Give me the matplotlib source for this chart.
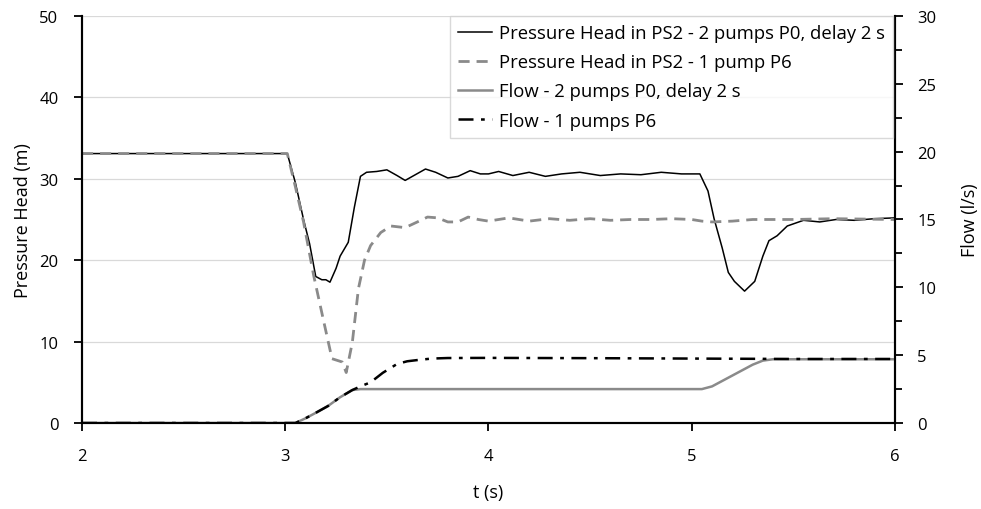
import matplotlib
matplotlib.use("Agg")
import matplotlib.pyplot as plt
from matplotlib.ticker import MultipleLocator

plt.rcParams["font.family"] = ["Open Sans", "DejaVu Sans"]

# ── data ──────────────────────────────────────────────
t_head2 = [2.0, 3.01, 3.05, 3.09, 3.12, 3.15, 3.18, 3.20, 3.22, 3.25, 3.27, 3.31, 3.34,
           3.37, 3.40, 3.45, 3.50, 3.55, 3.59, 3.64, 3.69, 3.74, 3.80, 3.85, 3.91, 3.96,
           4.00, 4.05, 4.12, 4.20, 4.28, 4.36, 4.45, 4.55, 4.65, 4.75, 4.85, 4.95, 5.04,
           5.08, 5.11, 5.15, 5.18, 5.21, 5.26, 5.31, 5.35, 5.38, 5.42, 5.47, 5.55, 5.63,
           5.71, 5.80, 5.90, 6.00]
head2 = [33.1, 33.1, 29.5, 25.0, 22.0, 18.0, 17.6, 17.6, 17.3, 19.0, 20.5, 22.2, 26.5,
         30.3, 30.8, 30.9, 31.1, 30.4, 29.8, 30.5, 31.2, 30.8, 30.1, 30.3, 31.0, 30.6,
         30.6, 30.9, 30.4, 30.8, 30.3, 30.6, 30.8, 30.4, 30.6, 30.5, 30.8, 30.6, 30.6,
         28.5, 25.1, 21.5, 18.5, 17.4, 16.2, 17.4, 20.5, 22.4, 23.0, 24.2, 24.9, 24.7,
         25.0, 24.9, 25.1, 25.2]

t_head1 = [2.0, 3.01, 3.05, 3.09, 3.14, 3.19, 3.23, 3.28, 3.30, 3.33, 3.36, 3.39, 3.42,
           3.47, 3.52, 3.59, 3.65, 3.70, 3.75, 3.80, 3.85, 3.90, 3.95, 4.0, 4.1, 4.2,
           4.3, 4.4, 4.5, 4.6, 4.7, 4.8, 4.9, 5.0, 5.05, 5.1, 5.2, 5.3, 5.5, 5.7, 6.0]
head1 = [33.1, 33.1, 29.0, 24.7, 18.1, 12.4, 7.9, 7.5, 6.2, 9.9, 16.5, 20.0, 21.8,
         23.4, 24.2, 24.0, 24.7, 25.3, 25.2, 24.7, 24.7, 25.3, 25.0, 24.8, 25.2, 24.8,
         25.1, 24.9, 25.1, 24.9, 25.0, 25.0, 25.1, 25.0, 24.8, 24.7, 24.8, 25.0, 25.0,
         25.1, 25.0]

t_flow2 = [2.0, 3.05, 3.10, 3.15, 3.21, 3.27, 3.33, 3.37, 5.05, 5.10, 5.15, 5.20, 5.25,
           5.30, 5.35, 5.40, 6.0]
flow2 = [0, 0, 0.35, 0.75, 1.25, 1.9, 2.43, 2.5, 2.5, 2.7, 3.1, 3.5, 3.9, 4.3, 4.6, 4.7, 4.7]

t_flow1 = [2.0, 3.05, 3.10, 3.15, 3.21, 3.27, 3.33, 3.37, 3.42, 3.48, 3.55, 3.60, 3.65,
           3.72, 3.80, 4.0, 4.5, 5.0, 5.5, 6.0]
flow1 = [0, 0, 0.35, 0.75, 1.25, 1.9, 2.43, 2.7, 3.0, 3.7, 4.35, 4.55, 4.64, 4.75, 4.79,
         4.8, 4.78, 4.75, 4.72, 4.72]

labels = ["Pressure Head in PS2 - 2 pumps P0, delay 2 s",
          "Pressure Head in PS2 - 1 pump P6",
          "Flow - 2 pumps P0, delay 2 s",
          "Flow - 1 pumps P6"]

# ── figure ────────────────────────────────────────────
fig = plt.figure(figsize=(9.81, 5.10), dpi=100)
ax = fig.add_axes([0.0836, 0.1686, 0.8287, 0.7981])
ax2 = ax.twinx()

l1, = ax.plot(t_head2, head2, color="black", lw=1.1, label=labels[0])
l2, = ax.plot(t_head1, head1, color="#8a8a8a", lw=2.0, ls=(0, (4, 2.5)), label=labels[1])
l3, = ax2.plot(t_flow2, flow2, color="#8a8a8a", lw=1.8, label=labels[2])
l4, = ax2.plot(t_flow1, flow1, color="black", lw=1.8, ls=(0, (6, 3, 1.5, 3)), label=labels[3])

ax.set_xlim(2, 6)
ax.set_ylim(0, 50)
ax2.set_ylim(0, 30)
ax.xaxis.set_major_locator(MultipleLocator(1))
ax.yaxis.set_major_locator(MultipleLocator(10))
ax2.yaxis.set_major_locator(MultipleLocator(5))
ax2.yaxis.set_minor_locator(MultipleLocator(2.5))

ax.grid(axis="y", color="#d9d9d9", lw=0.9)
ax.set_axisbelow(True)

for a in (ax, ax2):
    a.spines["top"].set_visible(False)
    for s in ("left", "right", "bottom"):
        a.spines[s].set_linewidth(1.5)
ax.tick_params(axis="y", labelsize=12, width=1.3, length=6, direction="out", pad=11)
ax.tick_params(axis="x", labelsize=12, width=1.3, length=6, direction="out", pad=12)
ax2.tick_params(axis="y", which="major", labelsize=12, width=1.3, length=6, direction="out", pad=10)
ax2.tick_params(axis="y", which="minor", width=1.3, length=5, direction="out")

ax.set_xlabel("t (s)", fontsize=13, labelpad=14)
ax.set_ylabel("Pressure Head (m)", fontsize=13, labelpad=5)
ax2.set_ylabel("Flow (l/s)", fontsize=13, labelpad=18)

leg = ax2.legend(handles=[l1, l2, l3, l4], loc="upper right", bbox_to_anchor=(0.998, 1.0),
                 fontsize=13.3, frameon=True, fancybox=False, handlelength=1.8,
                 handletextpad=0.4, labelspacing=0.6, borderpad=0.45, borderaxespad=0.0)
leg.get_frame().set_edgecolor("#d0d0d0")
leg.get_frame().set_linewidth(1.0)

fig.savefig("out.png", dpi=100)
plt.close(fig)
